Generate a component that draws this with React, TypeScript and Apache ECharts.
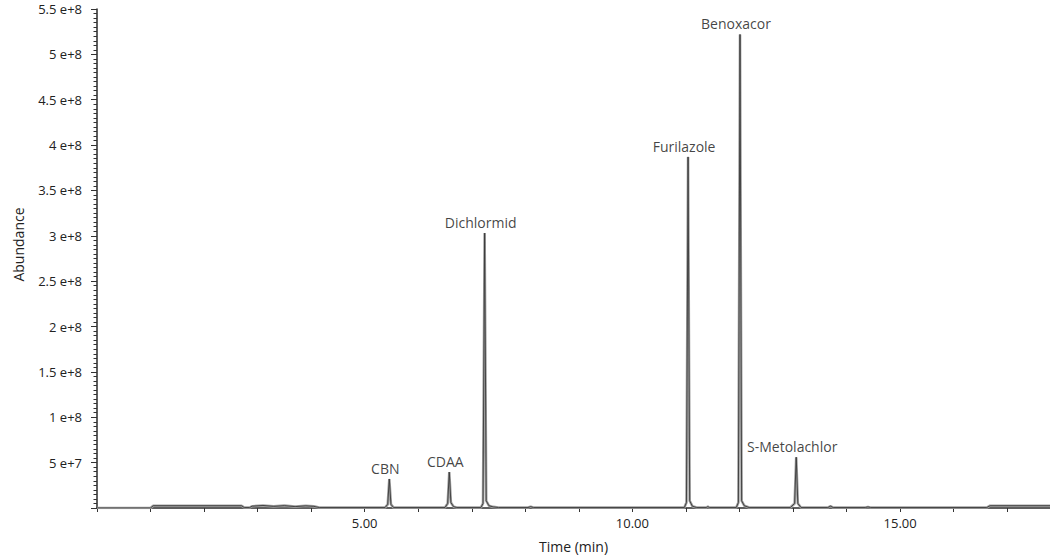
import React, { useEffect, useRef } from "react";
import * as echarts from "echarts";

// Retention time (min) and abundance
const times = [
  0.0, 1.0, 1.05, 2.7, 2.75, 2.85, 2.9, 3.1, 3.3, 3.5, 3.7, 3.9, 4.05, 4.15,
  5.38, 5.43, 5.46, 5.49, 5.54,
  6.5, 6.55, 6.58, 6.61, 6.66, 6.72,
  7.17, 7.21, 7.24, 7.27, 7.32, 7.4, 7.5,
  8.05, 8.1, 8.15,
  10.97, 11.01, 11.04, 11.07, 11.12, 11.2,
  11.38, 11.41, 11.44,
  11.94, 11.98, 12.01, 12.04, 12.09, 12.18,
  12.95, 13.03, 13.06, 13.09, 13.15,
  13.65, 13.7, 13.75,
  14.35, 14.4, 14.45,
  16.62, 16.68, 17.8,
];
const abundance = [
  0, 0, 2.5e6, 2.5e6, 0.5e6, 0.5e6, 2.0e6, 2.8e6, 1.8e6, 2.6e6, 1.5e6, 2.4e6, 1.8e6, 0.5e6,
  0.5e6, 4e6, 3.2e7, 4e6, 0.5e6,
  0.5e6, 5e6, 3.95e7, 6e6, 1.5e6, 0.5e6,
  0.5e6, 5e6, 3.03e8, 8e6, 2.5e6, 1.2e6, 0.5e6,
  0.5e6, 1.5e6, 0.5e6,
  0.5e6, 6e6, 3.87e8, 8e6, 2e6, 0.5e6,
  0.5e6, 1.5e6, 0.5e6,
  0.5e6, 6e6, 5.22e8, 8e6, 2.5e6, 0.5e6,
  0.5e6, 5e6, 5.6e7, 5e6, 0.5e6,
  0.5e6, 2e6, 0.5e6,
  0.5e6, 1.2e6, 0.5e6,
  0.5e6, 2.5e6, 2.5e6,
];

// Peak annotations
const peakNames = ["CBN", "CDAA", "Dichlormid", "Furilazole", "Benoxacor", "S-Metolachlor"];
const peakTimes = [5.46, 6.58, 7.24, 11.04, 12.01, 13.06];
const peakHeights = [3.2e7, 3.95e7, 3.03e8, 3.87e8, 5.22e8, 5.6e7];

const FONT = "Open Sans";

function fmtY(v: number): string {
  if (v === 0) return "";
  const e = Math.floor(Math.log10(v) + 1e-9);
  const m = +(v / Math.pow(10, e)).toFixed(2);
  return `${m} e+${e}`;
}

export default function App() {
  const ref = useRef<HTMLDivElement>(null);
  useEffect(() => {
    if (!ref.current) return;
    const chart = echarts.init(ref.current, null, { renderer: "svg" });
    const signal = times.map((t, i) => [t, abundance[i]]);
    chart.setOption({
      animation: false,
      backgroundColor: "#ffffff",
      grid: { left: 97, right: 0, top: 9, bottom: 49 },
      xAxis: {
        type: "value",
        min: 0,
        max: 17.8,
        interval: 1,
        name: "Time (min)",
        nameLocation: "middle",
        nameGap: 31,
        nameTextStyle: { fontFamily: FONT, fontSize: 14, color: "#222" },
        axisLine: { show: true, onZero: false, lineStyle: { color: "#2a2a2a", width: 1.5 } },
        axisTick: { show: true, length: 4, lineStyle: { color: "#333" } },
        splitLine: { show: false },
        axisLabel: {
          margin: 8,
          fontFamily: FONT,
          fontSize: 13,
          color: "#222",
          showMaxLabel: false,
          formatter: (v: number) => (v > 0 && Math.abs(v % 5) < 1e-6 ? v.toFixed(2) : ""),
        },
      },
      yAxis: {
        type: "value",
        min: 0,
        max: 5.5e8,
        interval: 5e7,
        name: "Abundance",
        nameLocation: "middle",
        nameGap: 72,
        nameRotate: 90,
        nameTextStyle: { fontFamily: FONT, fontSize: 14, color: "#222", padding: [0, 0, 0, 28] },
        axisLine: { show: true, lineStyle: { color: "#2a2a2a", width: 1.5 } },
        axisTick: { show: true, length: 6, lineStyle: { color: "#333" } },
        minorTick: { show: true, splitNumber: 10, length: 3.5, lineStyle: { color: "#333" } },
        splitLine: { show: false },
        axisLabel: {
          margin: 15,
          fontFamily: FONT,
          fontSize: 13,
          color: "#222",
          formatter: fmtY,
        },
      },
      series: [
        {
          type: "line",
          data: signal,
          symbol: "none",
          lineStyle: { color: "#a0a0a0", width: 2.6 },
          silent: true,
          z: 1,
        },
        {
          type: "line",
          data: signal,
          symbol: "none",
          lineStyle: { color: "#3a3a3a", width: 0.9 },
          silent: true,
          z: 2,
        },
        {
          type: "scatter",
          data: peakTimes.map((t, i) => ({ value: [t, peakHeights[i]], name: peakNames[i] })),
          symbolSize: 1,
          itemStyle: { color: "rgba(0,0,0,0)" },
          label: {
            show: true,
            position: "top",
            distance: 3,
            offset: [-4, 0],
            formatter: (p: any) => p.name,
            fontFamily: FONT,
            fontSize: 14,
            color: "#111",
          },
          z: 3,
        },
      ],
    });
    return () => chart.dispose();
  }, []);
  return (
    <div
      ref={ref}
      style={{ position: "fixed", left: 0, top: 0, width: 1050, height: 558 }}
    />
  );
}
